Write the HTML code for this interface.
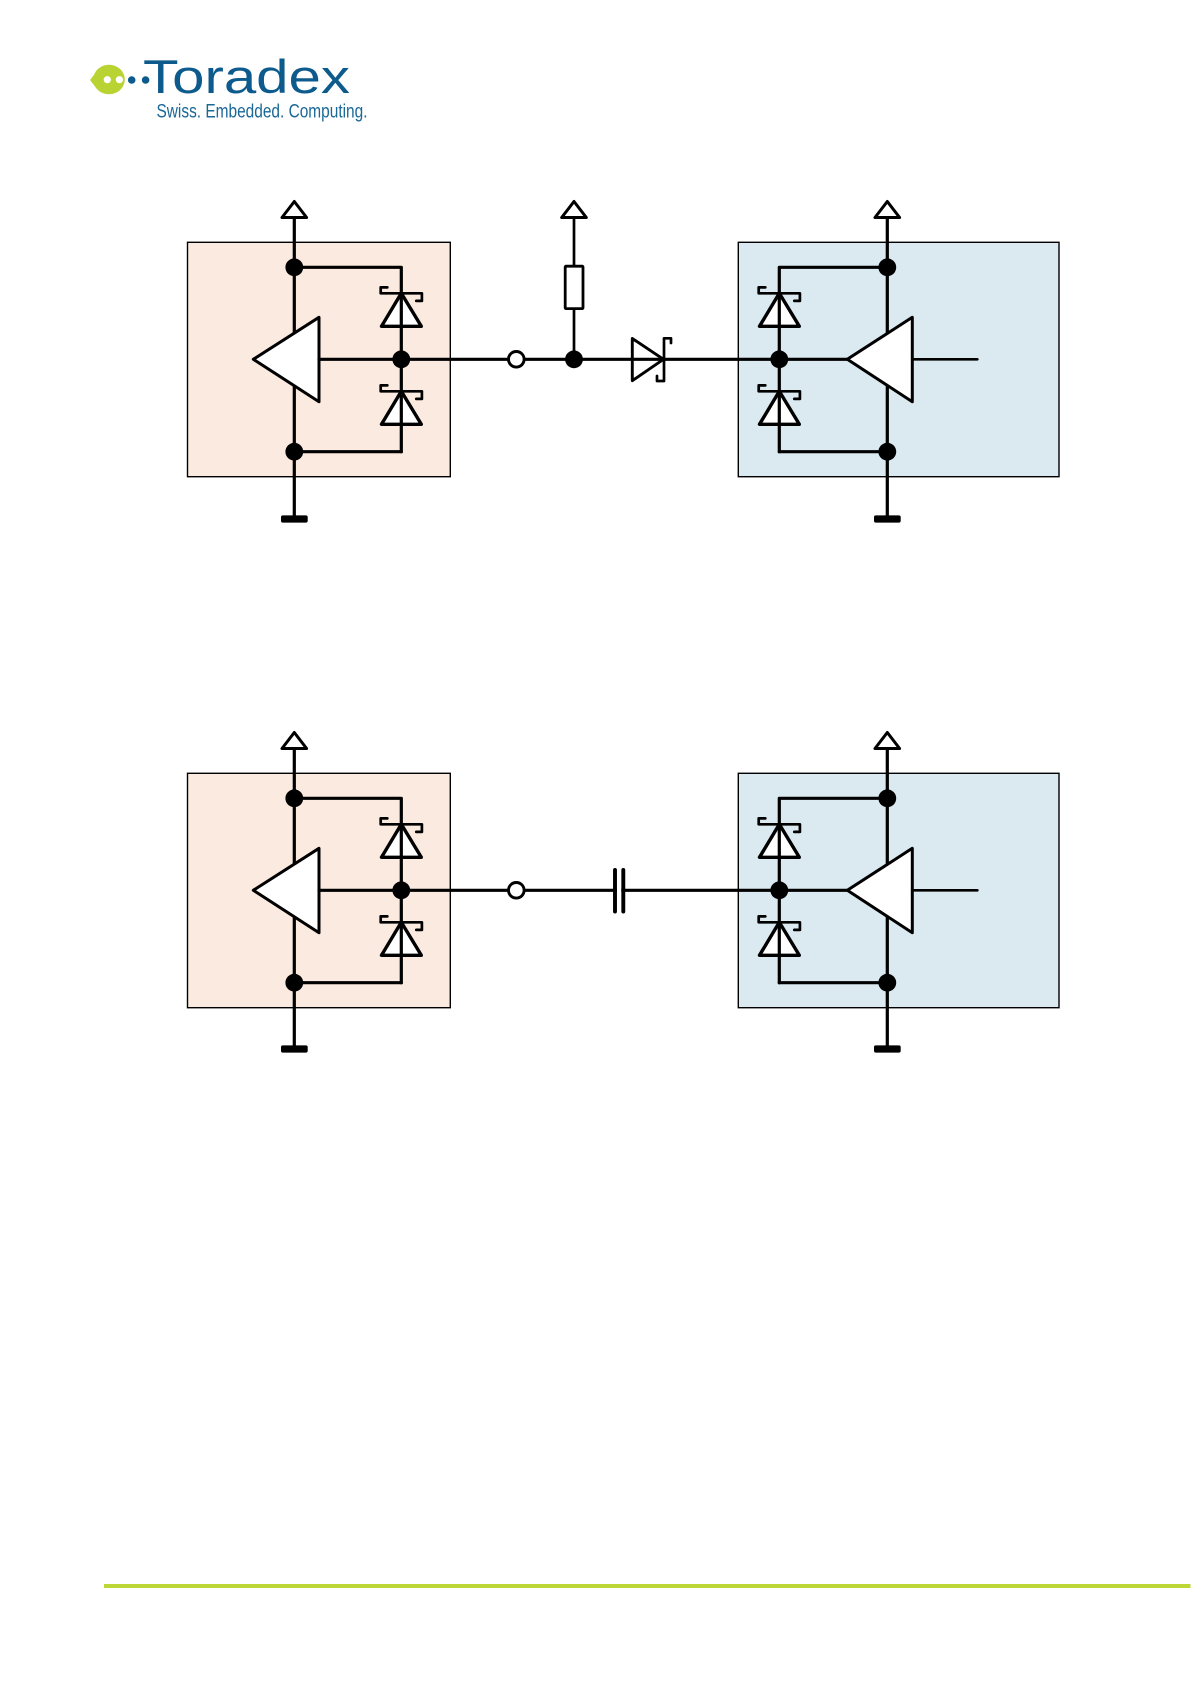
<!DOCTYPE html>
<html lang="en">
<head>
<meta charset="utf-8">
<title>Toradex circuit diagrams</title>
<style>
html,body{margin:0;padding:0;background:#fff;width:1191px;height:1684px;overflow:hidden}
svg{display:block;position:absolute;left:0;top:0}
.w{fill:none;stroke:#000;stroke-width:3.2;stroke-linejoin:round;stroke-linecap:round}
.t{fill:none;stroke:#000;stroke-width:2.7;stroke-linejoin:round;stroke-linecap:round}
.s{fill:#fff;stroke:#000;stroke-width:3;stroke-linejoin:round}
.z{fill:#fff;stroke:#000;stroke-width:3.4;stroke-linejoin:round}
.b{stroke:#000;stroke-width:1.4}
</style>
</head>
<body>
<svg width="1191" height="1684" viewBox="0 0 1191 1684" xmlns="http://www.w3.org/2000/svg">
  <defs>
    <g id="vcc"><path class="s" d="M0 201.5 L-12.3 217.5 L12.3 217.5 Z"/></g>
    <g id="zener">
      <path class="z" d="M0 0 L-19.8 33 L20 33 Z"/>
      <path class="t" d="M-14 -5.9 L-20.6 -5.9 L-20.6 0 L20.6 0 L20.6 7.6 L15 7.6"/>
    </g>
    <g id="left">
      <rect class="b" x="187.5" y="242.3" width="262.8" height="234.4" fill="#fbeadf"/>
      <path class="w" d="M294.3 217.5 V516"/>
      <use href="#vcc" x="294.3"/>
      <path class="w" d="M294.3 267.3 H401.3 V293"/>
      <path class="w" d="M294.3 451.7 H401.3"/>
      <use href="#zener" x="401.3" y="293.3"/>
      <use href="#zener" x="401.3" y="391.3"/>
      <path class="w" d="M401.3 293 V451.7"/>
      <path class="s" d="M253.3 359.3 L319 317.3 V401.7 Z"/>
      <circle cx="294.3" cy="267.3" r="8.9"/>
      <circle cx="294.3" cy="451.7" r="8.9"/>
      <circle cx="401.3" cy="359.3" r="8.9"/>
      <path class="w" d="M319 359.3 H401.3"/>
    </g>
    <g id="right">
      <rect class="b" x="738.3" y="242.3" width="320.7" height="234.4" fill="#daeaf0"/>
      <path class="w" d="M887.3 217.5 V516"/>
      <use href="#vcc" x="887.3"/>
      <path class="w" d="M887.3 267.3 H779.3 V293"/>
      <path class="w" d="M887.3 451.7 H779.3"/>
      <use href="#zener" x="779.3" y="293.3"/>
      <use href="#zener" x="779.3" y="391.3"/>
      <path class="w" d="M779.3 293 V451.7"/>
      <path class="w" d="M779.3 359.3 H847.3"/>
      <path class="s" d="M847.3 359.3 L912.3 317.3 V401.7 Z"/>
      <path class="t" d="M912.3 359.3 H977.3"/>
      <circle cx="887.3" cy="267.3" r="8.9"/>
      <circle cx="887.3" cy="451.7" r="8.9"/>
      <circle cx="779.3" cy="359.3" r="8.9"/>
    </g>
  </defs>

  <!-- Logo -->
  <ellipse cx="109" cy="79.5" rx="15.8" ry="14.8" fill="#b9d432"/>
  <path d="M90 80 L97 71 L97 89 Z" fill="#b9d432"/>
  <circle cx="107.3" cy="79.7" r="3.6" fill="#fff"/>
  <circle cx="119.4" cy="79.7" r="3.6" fill="#fff"/>
  <circle cx="131.7" cy="80" r="3.8" fill="#0d5a8c"/>
  <circle cx="145.6" cy="80" r="3.8" fill="#0d5a8c"/>
  <text x="143" y="93" font-family="'Liberation Sans',sans-serif" font-size="47" fill="#0d5a8c" textLength="207" lengthAdjust="spacingAndGlyphs">Toradex</text>
  <text x="156.5" y="117.3" font-family="'Liberation Sans',sans-serif" font-size="19" fill="#1a6896" textLength="211" lengthAdjust="spacingAndGlyphs">Swiss. Embedded. Computing.</text>

  <!-- Top diagram -->
  <use href="#left"/>
  <use href="#right"/>
  <rect x="281" y="515.4" width="26.7" height="7.2" rx="1.8"/>
  <rect x="874" y="515.4" width="26.7" height="7.2" rx="1.8"/>
  <path d="M632.3 338.5 L663.5 359.3 L632.3 380.7 Z" fill="#fff" stroke="#000" stroke-width="2.9" stroke-linejoin="round"/>
  <path class="w" d="M401.3 359.3 H779.3"/>
  <circle cx="516.3" cy="359.3" r="7.8" fill="#fff" stroke="#000" stroke-width="2.9"/>
  <path class="t" d="M574 217.5 V359"/>
  <use href="#vcc" x="574"/>
  <rect x="565.2" y="266.2" width="17.8" height="42.4" rx="0.8" fill="#fff" stroke="#000" stroke-width="2.8"/>
  <circle cx="574" cy="359.3" r="8.9"/>
  <path class="t" d="M671 343 V338.3 H664 V381 H657 V376"/>

  <!-- Bottom diagram -->
  <g transform="translate(0,531)">
    <use href="#left"/>
    <use href="#right"/>
    <path class="w" d="M401.3 359.3 H779.3"/>
    <circle cx="516.3" cy="359.3" r="7.8" fill="#fff" stroke="#000" stroke-width="2.9"/>
    <rect x="617" y="350" width="4.3" height="20" fill="#fff"/>
    <path d="M615 339 V380.5 M623.3 339 V380.5" fill="none" stroke="#000" stroke-width="3.9" stroke-linecap="round"/>
  </g>
  <rect x="281" y="1045.4" width="26.7" height="7.2" rx="1.8"/>
  <rect x="874" y="1045.4" width="26.7" height="7.2" rx="1.8"/>

  <!-- Footer line -->
  <rect x="104" y="1584" width="1086.5" height="4" fill="#bdd736"/>
</svg>
</body>
</html>
